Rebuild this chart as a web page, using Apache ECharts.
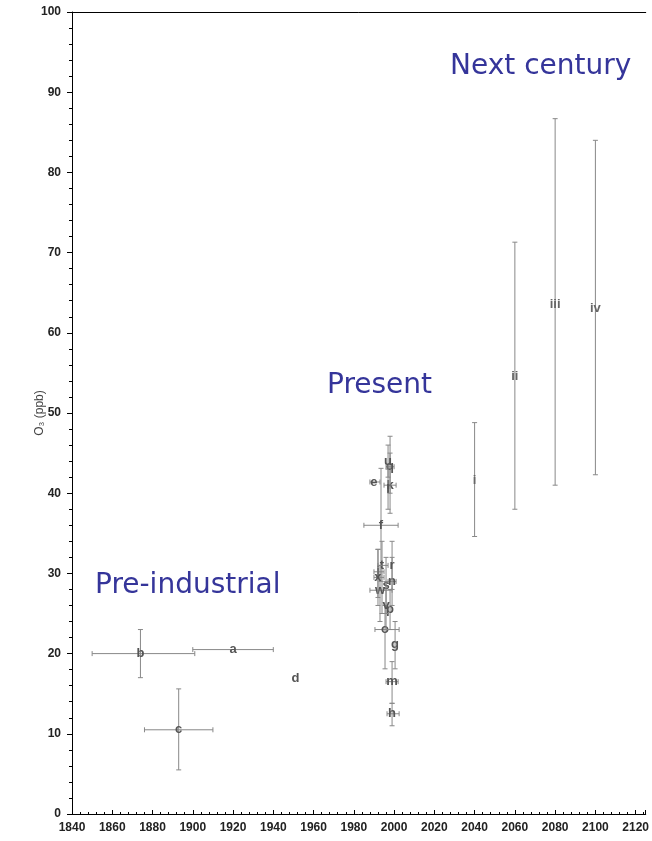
<!DOCTYPE html>
<html>
<head>
<meta charset="utf-8">
<script src="https://cdn.jsdelivr.net/npm/echarts@6/dist/echarts.min.js"></script>
<style>
  html, body { margin: 0; padding: 0; background: #fff; }
  #chart { width: 652px; height: 841px; }
</style>
</head>
<body>
<div id="chart"></div>
<script>
// point letters
var labels = ['a', 'b', 'c', 'd',
    'e', 'f', 'g', 'h', 'j', 'k', 'l', 'm', 'n', 'o', 'p', 'q', 'r', 's', 't', 'u', 'v', 'w', 'x',
    'i', 'ii', 'iii', 'iv'];
// year (x) and ozone (y)
var years = [1920, 1874, 1893, 1951,
    1990, 1993.5, 2000.5, 1999, 1992, 1998, 1997, 1999, 1999, 1995.5, 1998, 1998, 1999, 1996, 1994, 1997, 1996, 1993, 1992,
    2040, 2060, 2080, 2100];
var ozone = [20.5, 20, 10.5, 16.9,
    41.4, 36.0, 21.2, 12.5, 30.2, 41.0, 40.5, 16.5, 29.0, 23.0, 25.5, 43.3, 31.0, 28.5, 31.0, 44.0, 26.0, 27.9, 29.5,
    41.6, 54.5, 63.6, 63.0];
// x error range (years)
var xLow = [1900, 1850, 1876, null,
    1988, 1985, null, 1996.5, 1990, 1995, null, 1996, 1997, 1990.5, null, 1996, null, null, 1992, null, null, 1988, 1990,
    null, null, null, null];
var xHigh = [1940, 1901, 1910, null,
    1993, 2002, null, 2002.5, 1995, 2001, null, 2002, 2001, 2002.5, null, 2000, null, null, 1997, null, null, 1999, 1995,
    null, null, null, null];
// y error range (ppb)
var yLow = [null, 17, 5.5, null,
    null, 29, 18.1, 11.0, 27, 37.5, 38.0, 13.8, 26, 18.1, 23, 40, 28, 25, 25, 42, 23, 24, 26,
    34.6, 38.0, 41.0, 42.3];
var yHigh = [null, 23, 15.6, null,
    null, 43.1, 24, 13.8, 33, 45, 43, 19, 32, 26, 28, 47.1, 34, 32, 34, 46, 29, 31, 33,
    48.8, 71.3, 86.7, 84.0];

var chart = echarts.init(document.getElementById('chart'));

var rows = [];
for (var i = 0; i < labels.length; i++) {
    rows.push([
        years[i], ozone[i],
        xLow[i] == null ? years[i] : xLow[i],
        xHigh[i] == null ? years[i] : xHigh[i],
        yLow[i] == null ? ozone[i] : yLow[i],
        yHigh[i] == null ? ozone[i] : yHigh[i]
    ]);
}

var barColor = '#888';
var cap = 2.5;

function renderPoint(params, api) {
    var k = params.dataIndex;
    var c = api.coord([api.value(0), api.value(1)]);
    var kids = [];
    var style = {stroke: barColor, lineWidth: 1};

    if (xLow[k] != null) {
        var l = api.coord([api.value(2), api.value(1)]);
        var r = api.coord([api.value(3), api.value(1)]);
        kids.push({type: 'line', shape: {x1: l[0], y1: c[1], x2: r[0], y2: c[1]}, style: style});
        kids.push({type: 'line', shape: {x1: l[0], y1: c[1] - cap, x2: l[0], y2: c[1] + cap}, style: style});
        kids.push({type: 'line', shape: {x1: r[0], y1: c[1] - cap, x2: r[0], y2: c[1] + cap}, style: style});
    }
    if (yLow[k] != null) {
        var lo = api.coord([api.value(0), api.value(4)]);
        var hi = api.coord([api.value(0), api.value(5)]);
        kids.push({type: 'line', shape: {x1: c[0], y1: lo[1], x2: c[0], y2: hi[1]}, style: style});
        kids.push({type: 'line', shape: {x1: c[0] - cap, y1: lo[1], x2: c[0] + cap, y2: lo[1]}, style: style});
        kids.push({type: 'line', shape: {x1: c[0] - cap, y1: hi[1], x2: c[0] + cap, y2: hi[1]}, style: style});
    }
    var roman = k >= 23;
    kids.push({
        type: 'text',
        style: {
            x: c[0], y: c[1],
            text: labels[k],
            align: 'center', verticalAlign: 'middle',
            fill: roman ? '#666' : '#555',
            font: 'bold 13px "Liberation Sans", Arial, sans-serif'
        }
    });
    return {type: 'group', children: kids};
}

var axisFont = {color: '#222', fontSize: 12, fontWeight: 'bold', fontFamily: '"Liberation Sans", Arial, sans-serif'};
var noteFont = '28px "DejaVu Sans", Verdana, sans-serif';

var option = {
    backgroundColor: '#fff',
    animation: false,
    grid: {left: 72, right: 4, top: 12, bottom: 27},
    xAxis: [{
        type: 'value',
        min: 1840, max: 2125, interval: 20,
        axisLine: {lineStyle: {color: '#000'}},
        axisTick: {inside: true, length: 4, lineStyle: {color: '#000'}},
        minorTick: {show: true, splitNumber: 5, length: 2, lineStyle: {color: '#000'}},
        splitLine: {show: false},
        axisLabel: Object.assign({margin: 8, showMaxLabel: false,
            formatter: function (v) { return v % 20 === 0 ? String(v) : ''; }}, axisFont)
    }, {
        // top frame line only
        type: 'value', position: 'top',
        min: 1840, max: 2125,
        axisLine: {show: true, lineStyle: {color: '#000'}},
        axisTick: {show: false}, axisLabel: {show: false}, splitLine: {show: false}
    }],
    yAxis: {
        type: 'value',
        min: 0, max: 100, interval: 10,
        name: 'O\u2083 (ppb)',
        nameLocation: 'middle', nameRotate: 90, nameGap: 26,
        nameMoveOverlap: false,
        nameTextStyle: {color: '#444', fontSize: 12, fontFamily: '"Liberation Sans", Arial, sans-serif'},
        axisLine: {lineStyle: {color: '#000'}},
        axisTick: {length: 5, lineStyle: {color: '#000'}},
        minorTick: {show: true, splitNumber: 5, length: 3, lineStyle: {color: '#000'}},
        splitLine: {show: false},
        axisLabel: Object.assign({margin: 11}, axisFont)
    },
    graphic: [
        {type: 'text', left: 450, top: 53, style: {text: 'Next century', fill: '#35359a', font: noteFont}},
        {type: 'text', left: 327, top: 372, style: {text: 'Present', fill: '#35359a', font: noteFont}},
        {type: 'text', left: 95, top: 572, style: {text: 'Pre-industrial', fill: '#35359a', font: noteFont}}
    ],
    series: [{
        type: 'custom',
        renderItem: renderPoint,
        encode: {x: [0, 2, 3], y: [1, 4, 5]},
        data: rows
    }]
};

chart.setOption(option);
</script>
</body>
</html>
